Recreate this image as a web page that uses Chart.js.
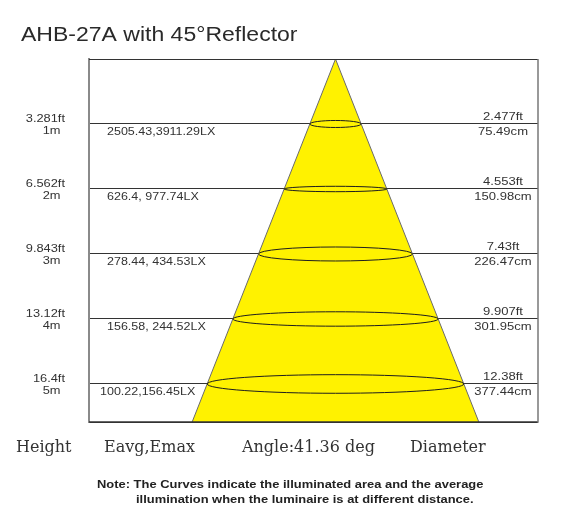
<!DOCTYPE html>
<html>
<head>
<meta charset="utf-8">
<title>AHB-27A with 45°Reflector</title>
<script src="https://cdn.jsdelivr.net/npm/chart.js@4.4.0/dist/chart.umd.min.js"></script>
<style>
  html, body { margin: 0; padding: 0; background: #fff; }
  #wrap { width: 570px; height: 520px; }
</style>
</head>
<body>
<div id="wrap"><canvas id="beamChart" width="570" height="520"></canvas></div>
<script>
// chart values
const chartTitle = 'AHB-27A with 45°Reflector';
const heightsM = [1, 2, 3, 4, 5];
const heightLabelsFt = ['3.281ft', '6.562ft', '9.843ft', '13.12ft', '16.4ft'];
const heightLabelsM = ['1m', '2m', '3m', '4m', '5m'];
const illuminance = ['2505.43,3911.29LX', '626.4, 977.74LX', '278.44, 434.53LX', '156.58, 244.52LX', '100.22,156.45LX'];
const diameterFt = ['2.477ft', '4.553ft', '7.43ft', '9.907ft', '12.38ft'];
const diameterCm = [75.49, 150.98, 226.47, 301.95, 377.44];
const beamAngle = 41.36;
const columnLabels = ['Height', 'Eavg,Emax', 'Angle:' + beamAngle + ' deg', 'Diameter'];
const noteLines = [
  'Note: The Curves indicate the illuminated area and the average',
  'illumination when the luminaire is at different distance.'
];

// axis range in metres (x = distance from beam centre, y = distance below the lamp)
const X_MIN = -3.625;
const X_MAX = 2.978;
const Y_MAX = 5.585;

const halfTan = Math.tan(beamAngle / 2 * Math.PI / 180);
const coneDepth = Y_MAX * 1.05;
const conePoints = [
  { x: -coneDepth * halfTan, y: coneDepth },
  { x: 0, y: 0 },
  { x: coneDepth * halfTan, y: coneDepth }
];

// draw text stretched horizontally like the original artwork
function drawText(ctx, str, x, y, align, k) {
  ctx.save();
  ctx.translate(x, y);
  ctx.scale(k, 1);
  ctx.textAlign = align;
  ctx.fillText(str, 0, 0);
  ctx.restore();
}

const beamDecor = {
  id: 'beamDecor',
  afterDatasetsDraw(chart, args, opts) {
    const ctx = chart.ctx;
    const xs = chart.scales.x;
    const ys = chart.scales.y;
    const cx = xs.getPixelForValue(0);

    // light-spot ellipses at each height
    ctx.save();
    ctx.strokeStyle = '#1e1e1e';
    ctx.lineWidth = 1;
    heightsM.forEach((h, i) => {
      const rx = xs.getPixelForValue(diameterCm[i] / 200) - cx;
      const cy = ys.getPixelForValue(h);
      ctx.beginPath();
      ctx.ellipse(cx, cy, rx, opts.ellipseDepth[i], 0, 0, Math.PI * 2);
      ctx.stroke();
    });
    ctx.restore();
  },
  afterDraw(chart) {
    const ctx = chart.ctx;
    const a = chart.chartArea;
    const ys = chart.scales.y;

    // frame
    ctx.save();
    ctx.strokeStyle = '#333';
    ctx.lineWidth = 1;
    ctx.beginPath();
    ctx.moveTo(a.left, a.top + 0.5);
    ctx.lineTo(a.right, a.top + 0.5);
    ctx.stroke();
    ctx.lineWidth = 1.5;
    ctx.beginPath();
    ctx.moveTo(a.left, a.bottom);
    ctx.lineTo(a.right, a.bottom);
    ctx.stroke();
    ctx.strokeStyle = '#777';
    ctx.beginPath();
    ctx.moveTo(a.right, a.top);
    ctx.lineTo(a.right, a.bottom + 0.75);
    ctx.stroke();
    ctx.restore();

    ctx.save();
    ctx.textBaseline = 'alphabetic';

    // title
    ctx.fillStyle = '#2a2a2a';
    ctx.font = '19.5px "Liberation Sans", Arial, sans-serif';
    drawText(ctx, chartTitle, 21, 41, 'left', 1.18);

    // row labels
    ctx.fillStyle = '#333';
    ctx.font = '10.7px "Liberation Sans", Arial, sans-serif';
    heightsM.forEach((h, i) => {
      const py = ys.getPixelForValue(h);
      drawText(ctx, heightLabelsFt[i], a.left - 24, py - 2, 'right', 1.2);
      drawText(ctx, heightLabelsM[i], a.left - 28.5, py + 10, 'right', 1.2);
      const ix = i === heightsM.length - 1 ? a.left + 11 : a.left + 18;
      drawText(ctx, illuminance[i], ix, py + 11.5, 'left', 1.17);
      drawText(ctx, diameterFt[i], a.right - 35, py - 3.5, 'center', 1.22);
      drawText(ctx, diameterCm[i] + 'cm', a.right - 35, py + 11.5, 'center', 1.22);
    });

    // column captions
    ctx.fillStyle = '#333';
    ctx.font = '16px "DejaVu Serif", serif';
    const capX = [a.left - 73, a.left + 15, a.left + 153, a.left + 321];
    columnLabels.forEach((t, i) => {
      ctx.fillText(t, capX[i], a.bottom + 30);
    });

    // note
    ctx.fillStyle = '#222';
    ctx.font = 'bold 11px "Liberation Sans", Arial, sans-serif';
    drawText(ctx, noteLines[0], 97, 488, 'left', 1.175);
    drawText(ctx, noteLines[1], 136, 503, 'left', 1.175);
    ctx.restore();
  }
};

new Chart(document.getElementById('beamChart').getContext('2d'), {
  type: 'scatter',
  data: {
    datasets: [{
      label: 'Beam',
      data: conePoints,
      showLine: true,
      pointRadius: 0,
      borderColor: '#6a6a6a',
      borderWidth: 1,
      backgroundColor: '#fff200',
      fill: { value: coneDepth },
      clip: 0
    }]
  },
  options: {
    responsive: false,
    devicePixelRatio: 1,
    animation: false,
    layout: { padding: { left: 89, right: 32, top: 59, bottom: 98 } },
    plugins: {
      legend: { display: false },
      tooltip: { enabled: false },
      beamDecor: { ellipseDepth: [3.5, 2.7, 7, 7.2, 9.3] }
    },
    scales: {
      x: { type: 'linear', min: X_MIN, max: X_MAX, display: false },
      y: {
        type: 'linear',
        reverse: true,
        min: 0,
        max: Y_MAX,
        ticks: { stepSize: 1, display: false },
        grid: { color: '#333', lineWidth: 1, drawTicks: false },
        border: { display: true, color: '#8a8a8a', width: 2 },
        afterFit: (scale) => { scale.width = 0; }
      }
    }
  },
  plugins: [beamDecor]
});
</script>
</body>
</html>
